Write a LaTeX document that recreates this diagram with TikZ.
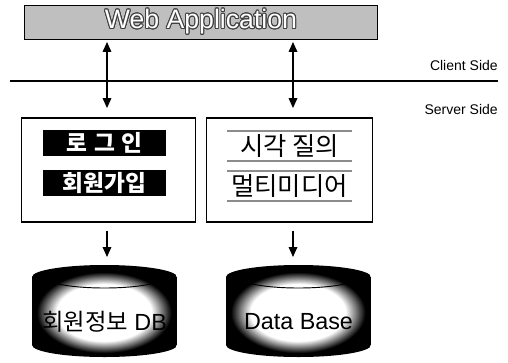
\documentclass[tikz,border=0pt]{standalone}
\usepackage{fontspec}
\usepackage{contour}
\setmainfont{Liberation Sans}
\newfontfamily\kr{Noto Sans CJK KR}
\usetikzlibrary{calc,
	positioning,
	arrows.meta,
	shapes}
\contourlength{0.7pt}
\tikzset{
	webbox/.style={draw, fill=gray!50, minimum width=265pt, minimum height=25.5pt, inner sep=0pt},
	sidelabel/.style={anchor=east, inner sep=0pt, font=\fontsize{10.5}{12}\selectfont},
	outerbox/.style={draw, line width=0.9pt, minimum height=78pt, inner sep=0pt},
	blackitem/.style={fill=black, text=white, minimum width=92pt, minimum height=19.5pt, inner sep=0pt, font=\kr\bfseries\fontsize{17}{18}\selectfont},
	grayitem/.style={minimum width=94pt, minimum height=22.5pt, inner sep=0pt, font=\kr\fontsize{19}{20}\selectfont},
	grayline/.style={draw=black!45, line width=1.6pt},
	dbtext/.style={inner sep=0pt, font=\fontsize{17.5}{18}\selectfont},
	dblarrow/.style={{Triangle[length=7.5pt,width=6.5pt]}-{Triangle[length=7.5pt,width=6.5pt]}, line width=0.9pt},
	downarrow/.style={-{Triangle[length=7.5pt,width=6.5pt]}, line width=0.9pt}
}

\begin{document}
\begin{tikzpicture}[x=0.75pt, y=-0.75pt]
	\useasboundingbox (0,0) rectangle (508,362);
	% client side
	\node[webbox] (web) at (201,22) {\fontsize{20}{22}\selectfont\contour{black!75}{\textcolor{white}{Web Application}}};
	\coordinate (sepL) at (10,81);
	\coordinate (sepR) at (498,81);
	\draw[line width=0.8pt] (sepL) -- (sepR);
	\node[sidelabel] (client) at (498,65) {Client Side};
	\node[sidelabel] (server) at (498,109) {Server Side};
	% server side
	\node[outerbox, minimum width=130pt] (loginbox) at (108.5,170) {};
	\node[outerbox, minimum width=124pt] (querybox) at (289.5,170) {};
	\node[blackitem] (login) at (104.5,143) {로\hspace{0.3em}그\hspace{0.3em}인};
	\node[blackitem] (join) at (104.5,183) {회원가입};
	\node[grayitem] (query) at (289.5,146) {시각 질의};
	\node[grayitem] (media) at (289.5,186) {멀티미디어};
	\foreach \item in {query,media} {
		\draw[grayline] (\item.north west) -- (\item.north east);
		\draw[grayline] (\item.south west) -- (\item.south east);
	}
	% databases
	\foreach \cx/\name/\txt in {104.5/dbA/{{\kr 회원정보} DB}, 298.5/dbB/{Data Base}} {
		\pgfmathsetmacro{\xl}{\cx-72.5}
		\pgfmathsetmacro{\xr}{\cx+72.5}
		\begin{scope}
			\clip (\xl,277) arc[start angle=180, end angle=360, x radius=72.5, y radius=12]
				-- (\xr,345) arc[start angle=0, end angle=180, x radius=72.5, y radius=12] -- cycle;
			\fill[black] (\xl,260) rectangle (\xr,360);
			\foreach \i in {0,...,20} {
				\pgfmathsetmacro{\rx}{68-\i}
				\pgfmathtruncatemacro{\bl}{100-5*\i}
				\fill[black!\bl] (\cx,313) ellipse[x radius=\rx, y radius=0.6*\rx];
			}
		\end{scope}
		\draw[line width=0.7pt] ($(\cx,277)+(-60,0)$) arc[start angle=180, end angle=0, x radius=60, y radius=11];
		\coordinate (top\name) at (\cx,265);
		\node[dbtext] (\name) at (\cx,322) {\txt};
	}
	% connectors
	\draw[dblarrow, shorten <=2pt, shorten >=7pt] (web.south -| 107,0) -- (loginbox.north -| 107,0);
	\draw[dblarrow, shorten <=2pt, shorten >=7pt] (web.south -| 293,0) -- (querybox.north -| 293,0);
	\draw[downarrow, shorten <=6pt, shorten >=6pt] (loginbox.south -| 107,0) -- (topdbA -| 107,0);
	\draw[downarrow, shorten <=6pt, shorten >=6pt] (querybox.south -| 293,0) -- (topdbB -| 293,0);
\end{tikzpicture}
\end{document}
